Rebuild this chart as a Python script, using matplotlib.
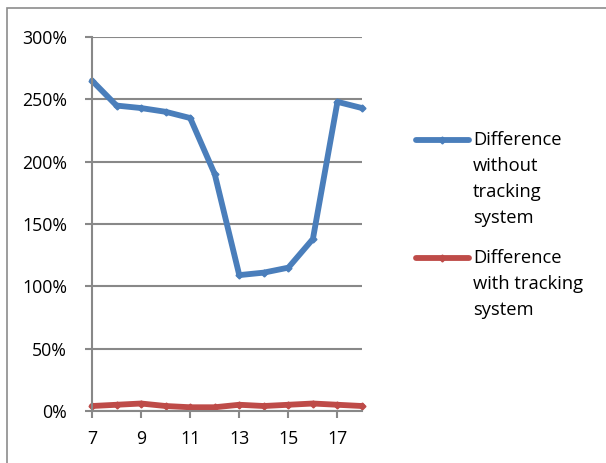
import matplotlib
matplotlib.use("Agg")
import matplotlib.pyplot as plt
from matplotlib.lines import Line2D
from matplotlib.patches import Rectangle
from matplotlib.ticker import FuncFormatter, FixedLocator

# Hours of the day
hours = [7, 8, 9, 10, 11, 12, 13, 14, 15, 16, 17, 18]
# Relative difference (fraction, 1.0 = 100%)
without_tracking = [2.65, 2.45, 2.43, 2.40, 2.35, 1.90, 1.09, 1.11, 1.15, 1.38, 2.48, 2.43]
with_tracking = [0.04, 0.05, 0.06, 0.04, 0.03, 0.03, 0.05, 0.04, 0.05, 0.06, 0.05, 0.04]

series_labels = ["Difference\nwithout\ntracking\nsystem",
                 "Difference\nwith tracking\nsystem"]
series_colors = ["#4A7EBB", "#BE4B48"]
y_ticks = [0, 0.5, 1.0, 1.5, 2.0, 2.5, 3.0]
x_ticks = [7, 9, 11, 13, 15, 17]

W, H = 606, 463
fig = plt.figure(figsize=(W / 100, H / 100), dpi=100)
plt.rcParams['font.family'] = ['Open Sans', 'DejaVu Sans']
FS = 12.8
LEG_FS = 13.2
LW = 4.2
grid_col = "#888888"

# outer chart frame
fig.add_artist(Rectangle((7 / W, -0.1), 1.2, 1 - 8 / H + 0.1,
                         transform=fig.transFigure, fill=False,
                         edgecolor="#8c8c8c", linewidth=1.2))

ax = fig.add_axes([92 / W, 1 - 411 / H, (362 - 92) / W, (411 - 37) / H])
ax.set_xlim(7, 18)
ax.set_ylim(0, 3.0)
ax.yaxis.set_major_locator(FixedLocator(y_ticks))
ax.xaxis.set_major_locator(FixedLocator(x_ticks))
ax.yaxis.set_major_formatter(FuncFormatter(lambda v, p: f"{v * 100:.0f}%"))
ax.grid(axis="y", color=grid_col, linewidth=1.5)
ax.set_axisbelow(True)
for s in ["top", "right"]:
    ax.spines[s].set_visible(False)
for s in ["left", "bottom"]:
    ax.spines[s].set_color(grid_col)
    ax.spines[s].set_linewidth(1.5)
ax.tick_params(axis="both", colors=grid_col, width=1.5, length=5,
               labelsize=FS, labelcolor="black")
ax.tick_params(axis="y", pad=13)
ax.tick_params(axis="x", pad=9)

for vals, col in zip([without_tracking, with_tracking], series_colors):
    ax.plot(hours, vals, color=col, linewidth=LW, marker="D", markersize=3.5,
            solid_joinstyle="round", solid_capstyle="round", clip_on=False)

# legend drawn in figure pixels
entry_tops = [140, 258]
line_step = 26
for lab, col, y0 in zip(series_labels, series_colors, entry_tops):
    yy = 1 - y0 / H
    fig.add_artist(Line2D([416 / W, 469 / W], [yy, yy], transform=fig.transFigure,
                          color=col, linewidth=LW, solid_capstyle="round"))
    fig.add_artist(Line2D([442 / W], [yy], transform=fig.transFigure,
                          color=col, marker="D", markersize=3.5))
    for i, part in enumerate(lab.split("\n")):
        fig.text(473 / W, 1 - (y0 + i * line_step) / H, part, fontsize=LEG_FS,
                 va="center", ha="left", color="black")

fig.savefig("out.png", dpi=100)
